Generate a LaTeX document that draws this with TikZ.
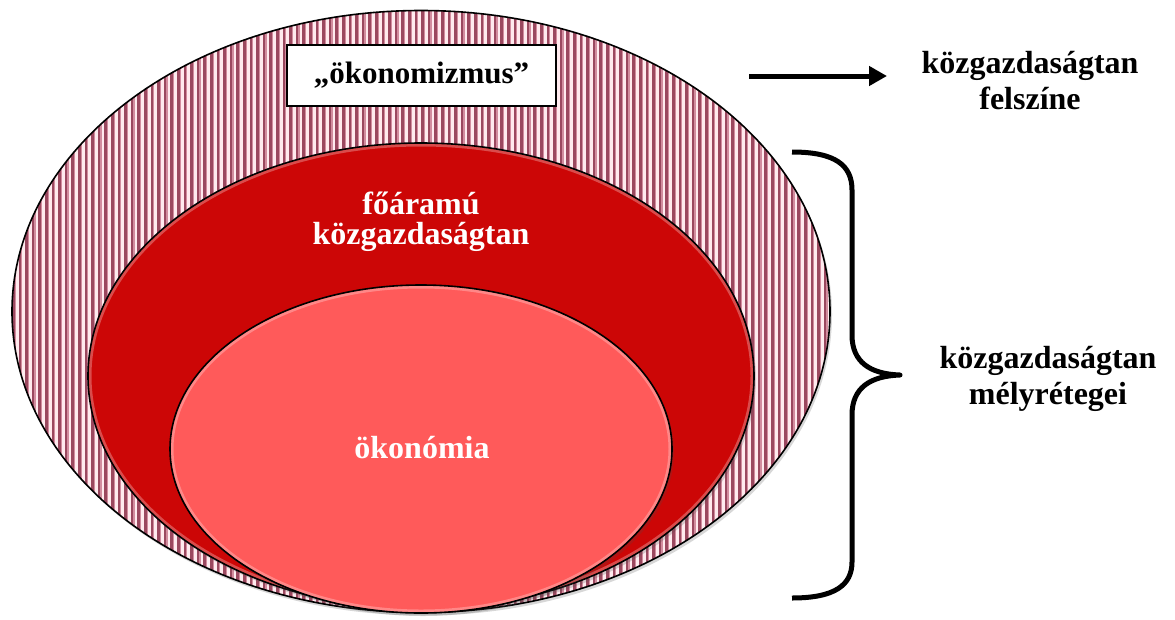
\documentclass[tikz,border=0pt]{standalone}
\usepackage{fontspec}
\setmainfont{Liberation Serif}
\usetikzlibrary{shapes.geometric,arrows.meta,shadows}
\definecolor{stripedark}{RGB}{155,72,95}
\definecolor{stripemid}{RGB}{210,140,158}
\definecolor{stripelight}{RGB}{255,234,238}
\definecolor{mainred}{RGB}{204,6,6}
\definecolor{coral}{RGB}{255,90,90}
\tikzset{
  layer/.style={ellipse, inner sep=0pt, outer sep=0pt,
    drop shadow={shadow xshift=2pt, shadow yshift=-3pt, opacity=0.22, fill=black!70},
    postaction={draw=black, line width=1.6pt}},
  striped/.style={fill=stripelight,
    path picture={
      \foreach \k in {0,...,126}{
        \draw[stripedark, line width=2.6pt]
          ([xshift=\k*6.6pt+1.3pt]path picture bounding box.north west) --
          ([xshift=\k*6.6pt+1.3pt]path picture bounding box.south west);
        \draw[stripemid, line width=1.2pt]
          ([xshift=\k*6.6pt+3.2pt]path picture bounding box.north west) --
          ([xshift=\k*6.6pt+3.2pt]path picture bounding box.south west);
      }}},
  glow/.style 2 args={path picture={
      \draw[white, opacity=0.28, line width=7pt]
        (path picture bounding box.center) ellipse [x radius=#1, y radius=#2];}},
  lbl/.style={font=\fontsize{32}{36}\selectfont\bfseries, align=center, inner sep=0pt},
  wlbl/.style={font=\fontsize{32}{30}\selectfont\bfseries, align=center, inner sep=0pt, text=white},
  labelbox/.style={draw=black, line width=2pt, fill=white, minimum width=269pt,
    minimum height=61pt, inner sep=0pt, font=\fontsize{31}{36}\selectfont\bfseries},
  brace/.style={draw=black, line width=5pt},
  pointer/.style={draw=black, line width=5pt, -{Triangle[length=18pt,width=19pt]}}
}
\begin{document}
\begin{tikzpicture}[x=1pt,y=-1pt]
\useasboundingbox[fill=white] (0,0) rectangle (1175,619);

% ellipses
\node[layer, striped, minimum width=818pt, minimum height=602pt] (outer) at (421,311.5) {};
\node[layer, fill=mainred, glow={333}{233}, minimum width=666pt, minimum height=466pt] (middle) at (421,376) {};
\node[layer, fill=coral, glow={251}{164}, minimum width=502pt, minimum height=328pt] (inner) at (421,449) {};

% texts
\node[labelbox] (econism) at (421.5,75.5) {„ökonomizmus”};
\node[wlbl, anchor=north] (mainstream) at (421,192) {főáramú\\közgazdaságtan};
\node[wlbl, anchor=base] (oecon) at (422,458) {ökonómia};
\node[lbl, anchor=north] (surface) at (1030,51) {közgazdaságtan\\felszíne};
\node[lbl, anchor=north] (deep) at (1048,346) {közgazdaságtan\\mélyrétegei};

% arrow
\coordinate (as) at (749,76);
\coordinate (ae) at (887,76);
\draw[pointer] (as) -- (ae);

% brace
\coordinate (bt) at (792,152);
\coordinate (btv) at (852,190);
\coordinate (bm1) at (852,335);
\coordinate (btip) at (900,375);
\coordinate (bm2) at (852,415);
\coordinate (bbv) at (852,562);
\coordinate (bb) at (792,598);
\draw[brace, line join=round]
  (bt) .. controls (835,152) and (852,165) .. (btv)
  -- (bm1) .. controls (852,362) and (870,374) .. (btip)
  .. controls (870,376) and (852,388) .. (bm2)
  -- (bbv) .. controls (852,585) and (835,598) .. (bb);
\end{tikzpicture}
\end{document}
